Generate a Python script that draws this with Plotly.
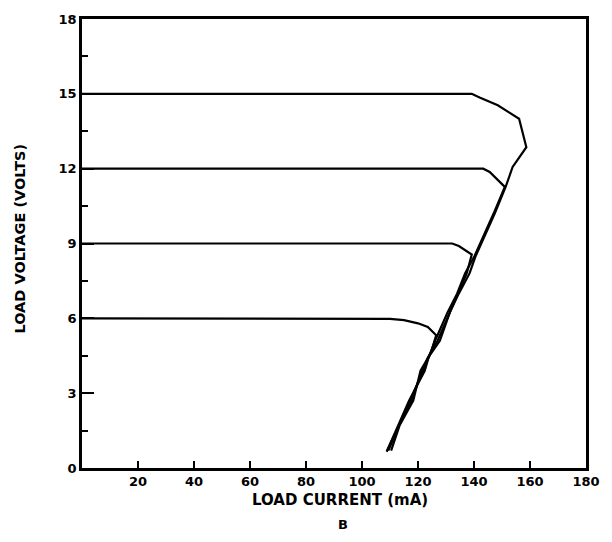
import plotly.graph_objects as go

# Load current (mA) / load voltage (V) for each set voltage
current_15v = [0, 139.2, 142.0, 148.5, 156.1, 158.7, 153.8, 151.4, 147.4, 143.5, 140.6, 138.4, 134.6, 131.4, 127.8, 123.5, 120.9, 118.3, 113.4, 110.4]
voltage_15v = [15.0, 15.0, 14.85, 14.54, 14.0, 12.86, 12.07, 11.3, 10.2, 9.2, 8.5, 7.8, 7.0, 6.25, 5.1, 4.4, 3.9, 2.7, 1.7, 0.7]

current_12v = [0, 143.3, 145.6, 151.0, 147.0, 143.1, 140.2, 136.8, 134.0, 130.6, 126.1, 123.7, 122.4, 116.8, 113.0, 108.8]
voltage_12v = [12.0, 12.0, 11.87, 11.27, 10.2, 9.2, 8.5, 7.8, 7.0, 6.25, 5.1, 4.4, 3.9, 2.7, 1.7, 0.65]

current_9v = [0, 132.2, 134.6, 139.2, 137.4, 134.3, 131.2, 127.0, 123.4, 121.6, 117.6, 113.2, 109.4]
voltage_9v = [9.0, 9.0, 8.9, 8.56, 7.8, 7.0, 6.25, 5.1, 4.4, 3.9, 2.7, 1.7, 0.7]

current_6v = [0, 100, 110, 115, 120, 123.5, 126.5, 124.8, 122.0, 117.2, 113.2, 109.0]
voltage_6v = [6.0, 6.0, 5.98, 5.93, 5.8, 5.65, 5.32, 4.7, 3.95, 2.7, 1.7, 0.7]

x_tick_vals = [20, 40, 60, 80, 100, 120, 140, 160, 180]
x_tick_text = ["20", "40", "60", "80", "100", "120", "140", "160", "180"]
y_tick_vals = [0, 3, 6, 9, 12, 15, 18]
y_tick_text = ["0", "3", "6", "9", "12", "15", "18"]
y_minor_vals = [1.5, 4.5, 7.5, 10.5, 13.5, 16.5]

fig = go.Figure()
for xs, ys in [(current_15v, voltage_15v), (current_12v, voltage_12v),
               (current_9v, voltage_9v), (current_6v, voltage_6v)]:
    fig.add_trace(go.Scatter(x=xs, y=ys, mode="lines",
                             line=dict(color="black", width=2.2),
                             showlegend=False, hoverinfo="skip"))

FAM = "DejaVu Sans, Arial, sans-serif"
tick_font = dict(family=FAM, size=13, color="black", weight="bold")
title_font = dict(family=FAM, size=15, color="black", weight="bold")
ytitle_font = dict(family=FAM, size=14.5, color="black", weight="bold")
b_font = dict(family=FAM, size=13, color="black", weight="bold")

W, H = 612, 542
L, R, T, B = 82, 14, 13, 74
plot_w = W - L - R
plot_h = H - T - B


def px_x(px):
    return (px - L) / plot_w


def px_y(py):
    return (H - B - py) / plot_h


fig.update_layout(
    width=W, height=H,
    margin=dict(l=L, r=R, t=T, b=B),
    paper_bgcolor="white", plot_bgcolor="white",
    xaxis=dict(range=[0, 180], showgrid=False, zeroline=False,
               showline=True, linecolor="black", linewidth=2.5, mirror=True,
               ticks="inside", ticklen=7, tickwidth=1.5, tickcolor="black",
               tickvals=x_tick_vals, ticktext=x_tick_text,
               tickfont=tick_font),
    yaxis=dict(range=[0, 18], showgrid=False, zeroline=False,
               showline=True, linecolor="black", linewidth=2.5, mirror=True,
               ticks="inside", ticklen=12, tickwidth=1.5, tickcolor="black",
               tickvals=y_tick_vals, ticktext=y_tick_text,
               tickfont=tick_font,
               minor=dict(tickvals=y_minor_vals,
                          ticks="inside", ticklen=6, tickwidth=1.5, tickcolor="black")),
    annotations=[
        dict(text="LOAD CURRENT (mA)", x=px_x(346.5), xref="paper", y=px_y(500.5), yref="paper",
             showarrow=False, font=title_font, xanchor="center", yanchor="middle"),
        dict(text="B", x=px_x(349), xref="paper", y=px_y(525.5), yref="paper",
             showarrow=False, font=b_font, xanchor="center", yanchor="middle"),
        dict(text="LOAD VOLTAGE (VOLTS)", x=px_x(19), xref="paper", y=px_y(235), yref="paper",
             showarrow=False, font=ytitle_font, textangle=-90,
             xanchor="center", yanchor="middle"),
    ],
)

# remove the browser's default 8px page margin so the figure fills the window
fig.write_html("out.html", config={"displayModeBar": False},
               post_script="document.body.style.margin='0';")
